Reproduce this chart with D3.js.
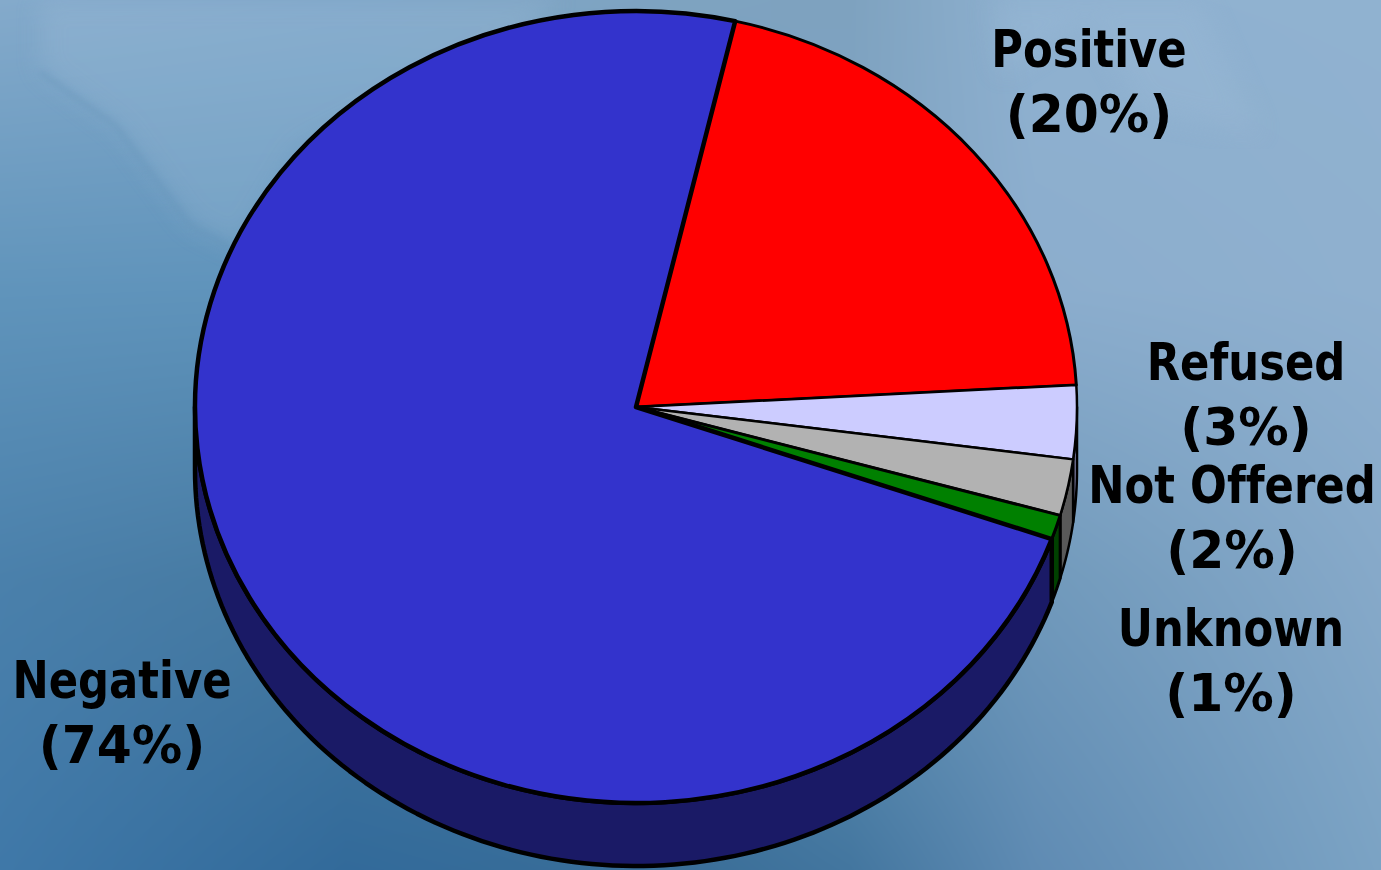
<!DOCTYPE html>
<html><head><meta charset="utf-8">
<script src="https://cdn.jsdelivr.net/npm/d3@7"></script>
<style>
html,body{margin:0;padding:0;width:1381px;height:870px;overflow:hidden;background:#6f9cc0}
canvas,svg{display:block;position:absolute;left:0;top:0}
text{font-family:"DejaVu Sans",sans-serif;font-weight:700;fill:#000;text-anchor:middle;font-variant-ligatures:none}
</style></head><body>
<canvas id="bg" width="1381" height="870"></canvas>
<svg id="c" width="1381" height="870"></svg>
<script>
// Data
const categories = ["Negative","Positive","Refused","Not Offered","Unknown"];
const sliceShares = [73.2,20.5,3.0,2.3,1.0];   // slice sizes as measured on the pie
const shownPercent = [74,20,3,2,1];            // percentages as printed in the labels
const topColors = ["#3333cc","#ff0000","#ccccff","#b2b2b2","#008000"];
const sideColors = ["#1a1a66","#800000","#8a8ab4","#595959","#004000"];
const strokeWidths = [4.5,3,2.5,2.5,3];
const labelCentres = [[122,698],[1089,67],[1246,380],[1232,503],[1231,646]];

// Background colour samples
const bgX = [0,345,690,850,1035,1381];
const bgY = [0,290,580,870];
const bgRows = [
  ["#84aacb","#7ea6c9","#7ea3c0","#7ea2bf","#8fb1d0","#90b2d0"],
  ["#6094bb","#5f93bb","#7099bb","#7ea3c4","#8badcd","#8fb0cf"],
  ["#4a80ab","#45789f","#4a7da6","#6090b4","#7099bb","#86a9c9"],
  ["#3f78a8","#326a9a","#3a6e98","#43769f","#5f8bb3","#7ba3c4"]
];

const W=1381,H=870,cx=636,cy=407,rx=441,ry=396,depth=63,R=400,lineGap=64;

// Background: bilinear blend of the colour samples
(function(){
  const ctx=document.getElementById("bg").getContext("2d"),img=ctx.createImageData(W,H);
  const sx=d3.scaleLinear().domain(bgX).range(d3.range(bgX.length));
  const sy=d3.scaleLinear().domain(bgY).range(d3.range(bgY.length));
  const rgb=bgRows.map(r=>r.map(c=>{const q=d3.rgb(c);return [q.r,q.g,q.b];}));
  for(let y=0;y<H;y++){
    const v=sy(y),j=Math.min(Math.floor(v),bgY.length-2),fy=v-j;
    for(let x=0;x<W;x++){
      const u=sx(x),i=Math.min(Math.floor(u),bgX.length-2),fx=u-i,o=(y*W+x)*4;
      for(let k=0;k<3;k++){
        const a=rgb[j][i][k]*(1-fx)+rgb[j][i+1][k]*fx, b=rgb[j+1][i][k]*(1-fx)+rgb[j+1][i+1][k]*fx;
        img.data[o+k]=a*(1-fy)+b*fy;
      }
      img.data[o+3]=255;
    }
  }
  ctx.putImageData(img,0,0);
})();

const svg=d3.select("#c");
const defs=svg.append("defs");
defs.append("filter").attr("id","soft").append("feGaussianBlur").attr("stdDeviation",12);
defs.append("filter").attr("id","soft2").append("feGaussianBlur").attr("stdDeviation",3);
// Faint map shapes behind the chart
svg.append("path").attr("d","M40,0 L40,70 L120,130 L190,225 L240,250 L300,150 L520,40 L560,0Z")
   .attr("fill","#a3c0da").attr("opacity",.28).attr("filter","url(#soft)");
svg.append("path").attr("d","M40,72 L115,125 L190,225 L232,248").attr("fill","none")
   .attr("stroke","#5f8fb4").attr("stroke-width",4).attr("opacity",.4).attr("filter","url(#soft2)");
svg.append("path").attr("d","M1000,75 L1090,20 L1140,110 L1260,135 L1200,0 L990,0Z")
   .attr("fill","#9ab9d6").attr("opacity",.4).attr("filter","url(#soft)");

// Layout
const startAngle=13*Math.PI/180;
const pie=d3.pie().value(d=>d.share).sort(null).startAngle(startAngle).endAngle(startAngle+2*Math.PI);
const rows=categories.map((c,i)=>({c,share:sliceShares[i],pct:shownPercent[i],top:topColors[i],side:sideColors[i],sw:strokeWidths[i],lab:labelCentres[i]}));
// Clockwise from the top: Positive, Refused, Not Offered, Unknown, then Negative round to the Positive edge
const order=[1,2,3,4,0].map(i=>rows[i]);
const arcs=pie(order);

const px=a=>cx+rx*Math.sin(a), py=a=>cy-ry*Math.cos(a);
const line=d3.line();

// Side wall: only the part of each slice's rim facing the viewer (90°..270°)
const walls=svg.append("g");
arcs.forEach(d=>{
  const a0=Math.max(d.startAngle,Math.PI/2), a1=Math.min(d.endAngle,3*Math.PI/2);
  if(a1<=a0) return;
  const pts=d3.range(0,121).map(k=>a0+(a1-a0)*k/120);
  const upper=pts.map(a=>[px(a),py(a)]);
  const lower=pts.slice().reverse().map(a=>[px(a),py(a)+depth]);
  walls.append("path").attr("d",line(upper.concat(lower))+"Z")
    .attr("fill",d.data.side).attr("stroke","#000").attr("stroke-width",d.data.sw).attr("stroke-linejoin","round");
});

// Top face: Negative drawn last so its heavier outline stays on top
const arc=d3.arc().innerRadius(0).outerRadius(R);
const face=svg.append("g").attr("transform",`translate(${cx},${cy}) scale(${rx/R},${ry/R})`);
face.selectAll("path").data(arcs).join("path")
  .attr("d",arc).attr("fill",d=>d.data.top)
  .attr("stroke","#000").attr("stroke-width",d=>d.data.sw).attr("stroke-linejoin","round")
  .attr("vector-effect","non-scaling-stroke");

// Labels
const labels=svg.append("g").selectAll("g").data(rows).join("g")
  .attr("transform",d=>`translate(${d.lab[0]},${d.lab[1]})`);
labels.append("text").attr("transform","scale(.85,1)").style("font-size","51px").text(d=>d.c);
labels.append("text").attr("transform",`translate(0,${lineGap+1}) scale(.969,1)`).style("font-size","52px").text(d=>`(${d.pct}%)`);
</script></body></html>
